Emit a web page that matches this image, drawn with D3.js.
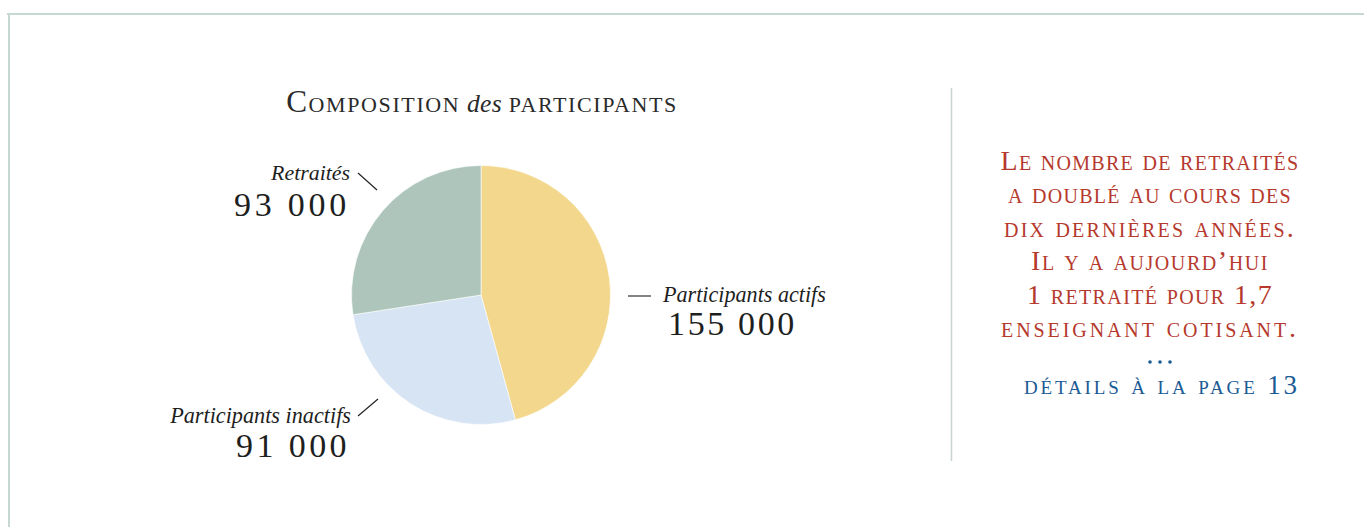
<!DOCTYPE html>
<html><head><meta charset="utf-8">
<script src="https://cdn.jsdelivr.net/npm/d3@7/dist/d3.min.js"></script>
<style>
html,body{margin:0;padding:0;background:#fff;}
svg{display:block;}
text{font-family:"Liberation Serif","DejaVu Serif",serif;}
</style></head>
<body>
<svg id="chart" width="1364" height="527"></svg>
<script>
const categories = ["Participants actifs", "Participants inactifs", "Retraités"];
const values = [155000, 91000, 93000];
const valueLabels = ["155 000", "91 000", "93 000"];
const colors = ["#f2d78d", "#d6e4f3", "#adc5bb"];
const titleParts = ["Composition", " des ", "participants"];
const noteLines = ["Le nombre de retraités", "a doublé au cours des", "dix dernières années.", "Il y a aujourd’hui", "1 retraité pour 1,7", "enseignant cotisant."];
const linkText = "détails à la page 13";

const svg = d3.select("#chart");

// frame
svg.append("line").attr("x1", 7).attr("x2", 1364).attr("y1", 14).attr("y2", 14)
  .attr("stroke", "#c6d8d2").attr("stroke-width", 2);
svg.append("line").attr("x1", 9).attr("x2", 9).attr("y1", 13).attr("y2", 527)
  .attr("stroke", "#c6d8d2").attr("stroke-width", 2);
// divider
svg.append("line").attr("x1", 951.5).attr("x2", 951.5).attr("y1", 88).attr("y2", 461)
  .attr("stroke", "#c9d4d1").attr("stroke-width", 1.5);

function fit(sel, target) {
  const w = sel.node().getComputedTextLength();
  const fs = parseFloat(sel.attr("font-size"));
  sel.attr("font-size", fs * target / w);
}
function fitSpacing(sel, target) {
  sel.attr("letter-spacing", 0);
  const w = sel.node().getComputedTextLength();
  const n = sel.text().length;
  sel.attr("letter-spacing", Math.max(0, (target - w) / n));
}

// title
const title = svg.append("text").attr("x", 482).attr("y", 112).attr("text-anchor", "middle")
  .attr("font-size", 24).attr("fill", "#2a2a2a").attr("letter-spacing", 1.6);
title.append("tspan").style("font-variant", "small-caps").text(titleParts[0]);
title.append("tspan").attr("font-style", "italic").attr("font-size", "0.82em").attr("letter-spacing", 0.3).text(titleParts[1]);
title.append("tspan").style("font-variant", "small-caps").text(titleParts[2]);
fit(title, 405);

// pie
const cx = 481, cy = 295, r = 129.5;
const pie = d3.pie().sort(null).value(d => d)(values);
const arc = d3.arc().innerRadius(0).outerRadius(r);
svg.append("g").attr("transform", `translate(${cx},${cy})`)
  .selectAll("path").data(pie).join("path")
  .attr("d", arc).attr("fill", (d, i) => colors[i])
  .attr("stroke", "#ffffff").attr("stroke-width", 0.6);

// labels
const labelSpec = [
  {name: [663, 302, "start", 163], val: [668, 335, "start", 129], line: [628, 296, 651, 296]},
  {name: [351, 423, "end", 181], val: [350, 457, "end", 114], line: [358, 416, 378, 399]},
  {name: [350, 180, "end", 79], val: [350, 216, "end", 116], line: [358, 173, 377, 190]}
];
categories.forEach((c, i) => {
  const s = labelSpec[i];
  const t = svg.append("text").attr("x", s.name[0]).attr("y", s.name[1]).attr("text-anchor", s.name[2])
    .attr("font-size", 20).attr("font-style", "italic").attr("fill", "#1e1e1e").text(c);
  fit(t, s.name[3]);
  const v = svg.append("text").attr("x", s.val[0]).attr("y", s.val[1]).attr("text-anchor", s.val[2])
    .attr("font-size", 34).attr("fill", "#1e1e1e").text(valueLabels[i]);
  fitSpacing(v, s.val[3]);
  svg.append("line").attr("x1", s.line[0]).attr("y1", s.line[1]).attr("x2", s.line[2]).attr("y2", s.line[3])
    .attr("stroke", "#1e1e1e").attr("stroke-width", 1.1);
});

// note
const noteY = [170, 203, 237, 270, 304, 337];
const noteW = [299, 284, 292, 238, 246, 298];
noteLines.forEach((l, i) => {
  const t = svg.append("text").attr("x", 1150).attr("y", noteY[i]).attr("text-anchor", "middle")
    .attr("font-size", 28).style("font-variant", "small-caps")
    .attr("fill", "#b6392d").text(l);
  fitSpacing(t, noteW[i]);
});
svg.append("g").selectAll("circle").data([-1, 0, 1]).join("circle")
  .attr("cx", d => 1160 + d * 10).attr("cy", 362).attr("r", 1.8).attr("fill", "#1b5b95");
const lk = svg.append("text").attr("x", 1162).attr("y", 394).attr("text-anchor", "middle")
  .attr("font-size", 27).style("font-variant", "small-caps")
  .attr("fill", "#1b5b95").text(linkText);
fitSpacing(lk, 276);
</script>
</body></html>
